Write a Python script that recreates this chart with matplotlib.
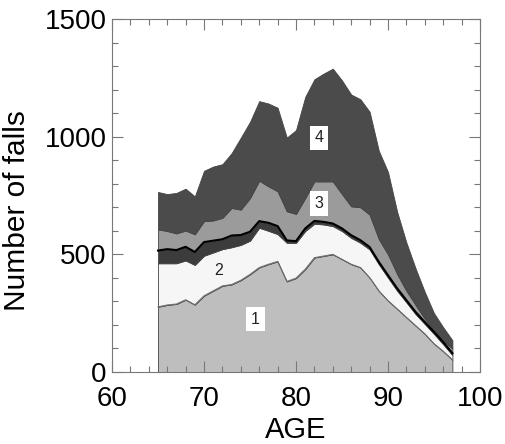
import matplotlib
matplotlib.use("Agg")
import matplotlib.pyplot as plt
import numpy as np
from matplotlib.ticker import MultipleLocator

plt.rcParams['font.family'] = ['Liberation Sans', 'DejaVu Sans']

ages = list(range(65, 98))
# cumulative tops of each band
top1 = [277, 285, 289, 307, 286, 324, 345, 366, 372, 390, 415, 444, 458, 470, 385, 399,
        437, 486, 493, 500, 479, 458, 444, 401, 345, 303, 268, 232, 197, 162, 120, 88, 52]
top2 = [462, 462, 462, 474, 455, 494, 508, 522, 530, 540, 558, 613, 600, 586, 549, 549,
        599, 630, 627, 620, 599, 570, 549, 521, 458, 401, 345, 296, 246, 204, 162, 118, 72]
top2b = [516, 522, 518, 532, 510, 552, 558, 564, 580, 582, 596, 641, 634, 620, 559, 556,
         610, 642, 638, 631, 610, 581, 560, 531, 468, 411, 355, 305, 255, 212, 170, 127, 80]
top3 = [606, 599, 589, 601, 585, 641, 644, 655, 697, 690, 739, 813, 789, 768, 683, 672,
        739, 810, 810, 810, 756, 704, 700, 669, 565, 500, 416, 345, 285, 226, 175, 132, 100]
top4 = [765, 756, 761, 779, 746, 855, 873, 883, 930, 996, 1063, 1151, 1141, 1123, 996, 1028,
        1169, 1244, 1268, 1289, 1239, 1179, 1159, 1106, 940, 850, 680, 550, 440, 340, 250, 190, 135]

labels = ['1', '2', '', '3', '4']
label_pos = [(75.6, 225), (71.6, 430), None, (82.5, 715), (82.5, 995)]

x = np.array(ages)
tops = [np.array(t) for t in (top1, top2, top2b, top3, top4)]
layers = [tops[0]] + [tops[i] - tops[i - 1] for i in range(1, 5)]

colors = ['#bebebe', '#f6f6f6', '#3c3c3c', '#9b9b9b', '#4b4b4b']

fig = plt.figure(figsize=(5.05, 4.44), dpi=100)
ax = fig.add_axes([0.2218, 0.1622, 0.7287, 0.795])

ax.stackplot(x, *layers, colors=colors, linewidth=0.6, edgecolor='#444444')
ax.plot(x, tops[2], color='black', linewidth=1.5)
ax.plot(x, tops[0], color='#707070', linewidth=0.7)

for lab, pos in zip(labels, label_pos):
    if not lab:
        continue
    if lab == '2':
        ax.text(pos[0], pos[1], lab, ha='center', va='center', fontsize=11.5, color='#222222')
    else:
        ax.text(pos[0], pos[1], lab, ha='center', va='center', fontsize=11.5, color='#222222',
                bbox=dict(boxstyle='square,pad=0.3', fc='white', ec='none'))

ax.set_xlim(60, 100)
ax.set_ylim(0, 1500)
ax.xaxis.set_major_locator(MultipleLocator(10))
ax.xaxis.set_minor_locator(MultipleLocator(2))
ax.yaxis.set_major_locator(MultipleLocator(500))
ax.yaxis.set_minor_locator(MultipleLocator(100))
ax.tick_params(which='both', direction='in', top=True, right=True, color='#777777',
               labelsize=20)
ax.tick_params(axis='x', which='major', pad=10)
ax.tick_params(axis='y', which='major', pad=4)
ax.tick_params(which='major', length=8, width=0.8)
ax.tick_params(which='minor', length=4.5, width=0.8)
for s in ax.spines.values():
    s.set_color('#777777')
    s.set_linewidth(0.8)

ax.set_xlabel('AGE', fontsize=21, va='center')
ax.xaxis.set_label_coords(0.5, -0.163)
ax.set_ylabel('Number of falls', fontsize=21.5, va='center')
ax.yaxis.set_label_coords(-0.258, 0.456)

fig.savefig('out.png', dpi=100)
